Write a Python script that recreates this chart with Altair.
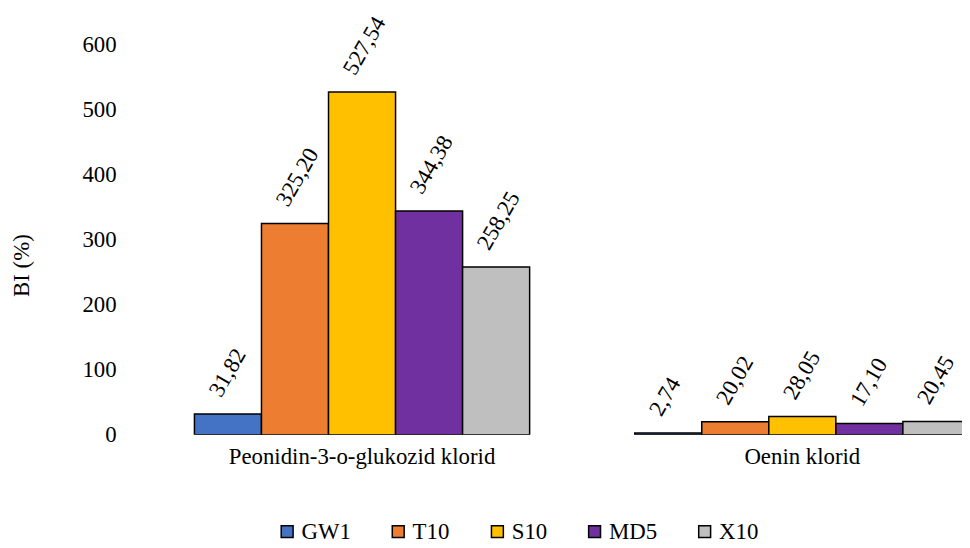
import altair as alt
import pandas as pd

groups = ["Peonidin-3-o-glukozid klorid", "Oenin klorid"]
series = ["GW1", "T10", "S10", "MD5", "X10"]
peonidin = [31.82, 325.20, 527.54, 344.38, 258.25]
oenin = [2.74, 20.02, 28.05, 17.10, 20.45]
colors = ["#4472C4", "#ED7D31", "#FFC000", "#7030A0", "#BFBFBF"]
y_ticks = [0, 100, 200, 300, 400, 500, 600]

rows = []
for g, vals in zip(groups, [peonidin, oenin]):
    for s, v in zip(series, vals):
        rows.append({"group": g, "series": s, "value": v,
                     "label": f"{v:.2f}".replace(".", ",")})
df = pd.DataFrame(rows)

FONT = "Liberation Serif"
FS = 23

x_enc = alt.X("group:N", sort=groups, title=None,
              scale=alt.Scale(range=[46, 828], paddingInner=0.2387, paddingOuter=0),
              axis=alt.Axis(domain=False, ticks=False, labelPadding=11, labelAngle=0,
                            labelLimit=0, labelFont=FONT, labelFontSize=FS,
                            labelColor="black"))
xo_enc = alt.XOffset("series:N", sort=series,
                     scale=alt.Scale(paddingInner=0, paddingOuter=0))
y_enc = alt.Y("value:Q", title="BI (%)",
              scale=alt.Scale(domain=[0, 600], nice=False),
              axis=alt.Axis(values=y_ticks, grid=False, domain=False, ticks=False,
                            labelPadding=33, labelFont=FONT, labelFontSize=FS,
                            labelColor="black", titleFont=FONT, titleFontSize=FS,
                            titleFontWeight="normal", titleColor="black",
                            titleX=-128, titleY=222, titleAngle=-90,
                            titleAlign="center", titleBaseline="middle"))

base = alt.Chart(df)

bars = base.mark_bar(stroke="black", strokeWidth=1.5, clip=True).encode(
    x=x_enc, xOffset=xo_enc, y=y_enc,
    color=alt.Color("series:N", sort=series,
                    scale=alt.Scale(domain=series, range=colors),
                    legend=alt.Legend(title=None, orient="none", direction="horizontal",
                                      legendX=128, legendY=479, columns=5,
                                      symbolType="square", symbolSize=144,
                                      symbolStrokeColor="black", symbolStrokeWidth=1.5,
                                      labelFont=FONT, labelFontSize=FS, labelColor="black",
                                      labelOffset=3, columnPadding=36, padding=0))
)

labels = base.mark_text(angle=300, align="left", baseline="middle", dx=10, dy=-21,
                        font=FONT, fontSize=FS, color="black").encode(
    x=x_enc, xOffset=xo_enc, y=y_enc, text="label:N"
)

chart = alt.layer(bars, labels).properties(
    width=820, height=393,
    autosize=alt.AutoSizeParams(type="none"),
    padding={"left": 142, "top": 35, "right": 0, "bottom": 112},
).configure(background="white").configure_view(stroke=None)

chart.save("out.html", embed_options={"renderer": "svg", "actions": False})
